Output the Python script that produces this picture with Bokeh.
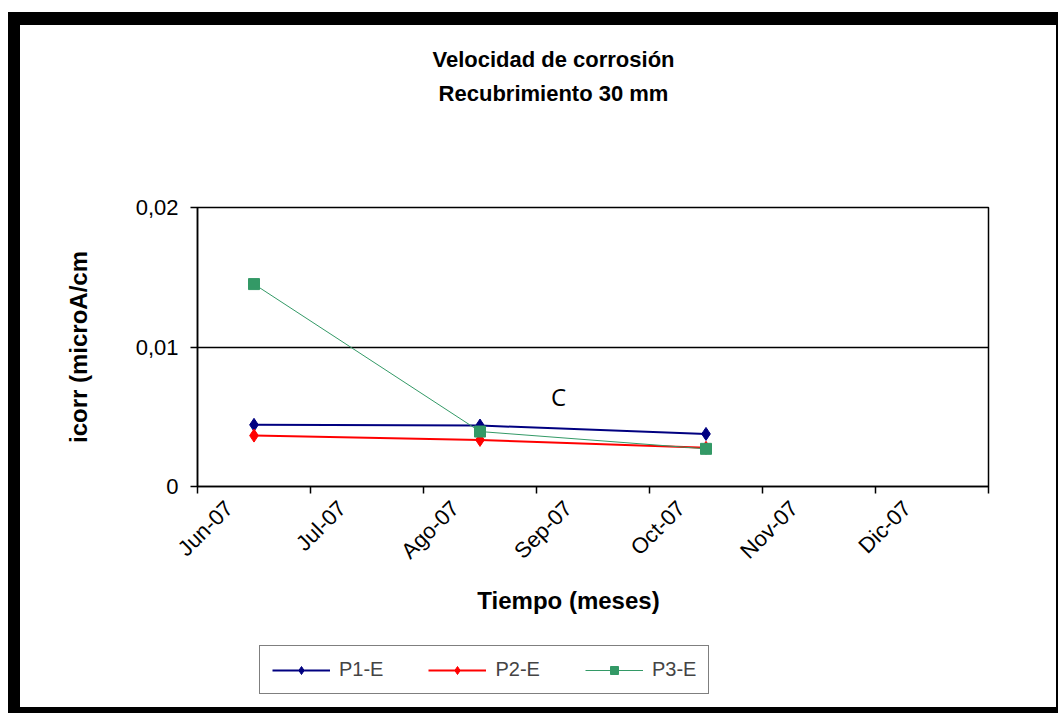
import math
from bokeh.plotting import figure
from bokeh.models import Range1d, FixedTicker, Legend, LegendItem, Label, Div
from bokeh.layouts import column, row
from bokeh.embed import file_html
from bokeh.resources import INLINE

# ---------------- data ----------------
months = ["Jun-07", "Jul-07", "Ago-07", "Sep-07", "Oct-07", "Nov-07", "Dic-07"]
dates = ["Jun-07", "Ago-07", "Oct-07"]
p1_e = [0.00442, 0.00437, 0.00377]
p2_e = [0.00365, 0.00334, 0.00277]
p3_e = [0.01451, 0.00394, 0.00270]
series_names = ["P1-E", "P2-E", "P3-E"]
y_ticks = [0, 0.01, 0.02]
y_tick_labels = ["0", "0,01", "0,02"]
title_lines = ["Velocidad de corrosión", "Recubrimiento 30 mm"]
x_title = "Tiempo (meses)"
y_title = "icorr (microA/cm"
note = "C"

# ---------------- layout constants ----------------
W = 1036                      # white chart area inside the black frame
H_TOP, H_MAIN, H_BOT = 162, 399, 121
ML, MR, MT, MB = 177, 68, 20, 100
Y_MAX = 0.02
N = len(months)
FONT = "Liberation Sans"
OFF = 1000                    # pixel-space offset for the text panels


def text_panel(h):
    # frame aligned with the main chart's frame; x data == chart-area pixels + OFF
    f = figure(width=W, height=h, output_backend="svg", toolbar_location=None,
               x_range=Range1d(OFF + ML, OFF + W - MR), y_range=Range1d(OFF, OFF + h),
               x_axis_location=None, y_axis_location=None,
               min_border_left=ML, min_border_right=MR, min_border_top=0, min_border_bottom=0,
               background_fill_color="white", border_fill_color="white")
    f.outline_line_color = None
    f.grid.visible = False
    return f


# ---------------- title panel ----------------
top = text_panel(H_TOP)
for txt, fy in zip(title_lines, [34, 68]):
    top.add_layout(Label(x=OFF + 533, y=OFF + H_TOP - fy, text=txt,
                         text_align="center", text_baseline="middle",
                         text_font=FONT, text_font_style="bold",
                         text_font_size="22px", text_color="black"))

# ---------------- main chart ----------------
p = figure(width=W, height=H_MAIN, output_backend="svg", toolbar_location=None,
           x_range=Range1d(0, N), y_range=Range1d(0, Y_MAX),
           min_border_left=ML, min_border_right=MR,
           min_border_top=MT, min_border_bottom=MB,
           background_fill_color="white", border_fill_color="white")
p.outline_line_color = "black"
p.outline_line_width = 1.5
p.xgrid.visible = False
p.ygrid.ticker = FixedTicker(ticks=y_ticks)
p.ygrid.grid_line_color = "black"
p.ygrid.grid_line_width = 1.5

x_pos = [months.index(d) + 0.5 for d in dates]
colors = ["#000080", "#ff0000", "#339966"]
markers = ["diamond", "diamond", "square"]
sizes = [13, 13, 11]
widths = [2, 2, 1]
series = [p1_e, p2_e, p3_e]
for ys, c, m, s, w in zip(series, colors, markers, sizes, widths):
    p.line(x_pos, ys, line_color=c, line_width=w)
    p.scatter(x_pos, ys, marker=m, size=s, fill_color=c, line_color=c)

LABEL_SHIFT = 0.28
xa = p.xaxis[0]
xa.ticker = FixedTicker(ticks=[round(i + LABEL_SHIFT, 3) for i in range(N)],
                        minor_ticks=list(range(N + 1)))
xa.major_label_overrides = {round(i + LABEL_SHIFT, 3): m for i, m in enumerate(months)}
xa.major_label_orientation = math.pi / 4
xa.major_tick_out = 0
xa.major_tick_in = 0
xa.minor_tick_out = 7
xa.minor_tick_in = 0
xa.minor_tick_line_color = "black"
xa.minor_tick_line_width = 1.5
xa.axis_line_color = "black"
xa.axis_line_width = 1.5
xa.major_label_text_font = FONT
xa.major_label_text_font_size = "22px"
xa.major_label_text_color = "black"
xa.major_label_standoff = 11

ya = p.yaxis[0]
ya.ticker = FixedTicker(ticks=y_ticks)
ya.major_label_overrides = {t: l for t, l in zip(y_ticks, y_tick_labels)}
ya.major_tick_out = 7
ya.major_tick_in = 0
ya.minor_tick_out = 0
ya.minor_tick_in = 0
ya.major_tick_line_color = "black"
ya.major_tick_line_width = 1.5
ya.axis_line_color = "black"
ya.axis_line_width = 1.5
ya.major_label_text_font = FONT
ya.major_label_text_font_size = "22px"
ya.major_label_text_color = "black"
ya.major_label_standoff = 12
ya.axis_label = y_title
ya.axis_label_text_font = FONT
ya.axis_label_text_font_size = "24px"
ya.axis_label_text_font_style = "bold"
ya.axis_label_text_color = "black"
ya.axis_label_standoff = 41

# "C" note inside the plot area (chart-area pixel position -> data)
FW = W - ML - MR
FH = H_MAIN - MT - MB
p.add_layout(Label(x=(538 - ML) / FW * N, y=(H_MAIN - MB - (371 - H_TOP)) / FH * Y_MAX,
                   text=note, text_align="center", text_baseline="middle",
                   text_font="Open Sans", text_font_size="24px", text_color="black"))

# ---------------- bottom panel: x title + legend ----------------
bot = text_panel(H_BOT)
bot.add_layout(Label(x=OFF + 548, y=OFF + H_BOT - 14, text=x_title,
                     text_align="center", text_baseline="middle",
                     text_font=FONT, text_font_style="bold", text_font_size="24px",
                     text_color="black"))
items = []
for name, ys, c, m, s, w in zip(series_names, series, colors, markers, sizes, widths):
    # same series, drawn in this panel only for the legend keys (outside its view)
    lr = bot.line(x_pos, ys, line_color=c, line_width=w)
    sr = bot.scatter(x_pos, ys, marker=m, size=s, fill_color=c, line_color=c)
    items.append(LegendItem(label=name, renderers=[lr, sr]))
legend = Legend(items=items, orientation="horizontal", location=(239 - ML, 13),
                border_line_color="black", border_line_width=1.5,
                label_text_font=FONT, label_text_font_size="20px",
                glyph_width=58, glyph_height=20, label_standoff=9, spacing=45,
                padding=12, margin=0)
bot.add_layout(legend, "center")


# ---------------- black frame around the chart area ----------------
def bar(w, h, color=None):
    return Div(width=w, height=h, margin=0,
               styles={"background-color": color} if color else {})


H = H_TOP + H_MAIN + H_BOT
page = column(
    bar(1058, 12),
    row(bar(8, 701), bar(12, 701, "black"),
        column(bar(1038, 13, "black"),
               row(column(top, p, bot, spacing=0), bar(2, H, "black"), spacing=0),
               bar(1038, 6, "black"), spacing=0),
        spacing=0),
    spacing=0)

open("out.html", "w").write(file_html(page, INLINE))
